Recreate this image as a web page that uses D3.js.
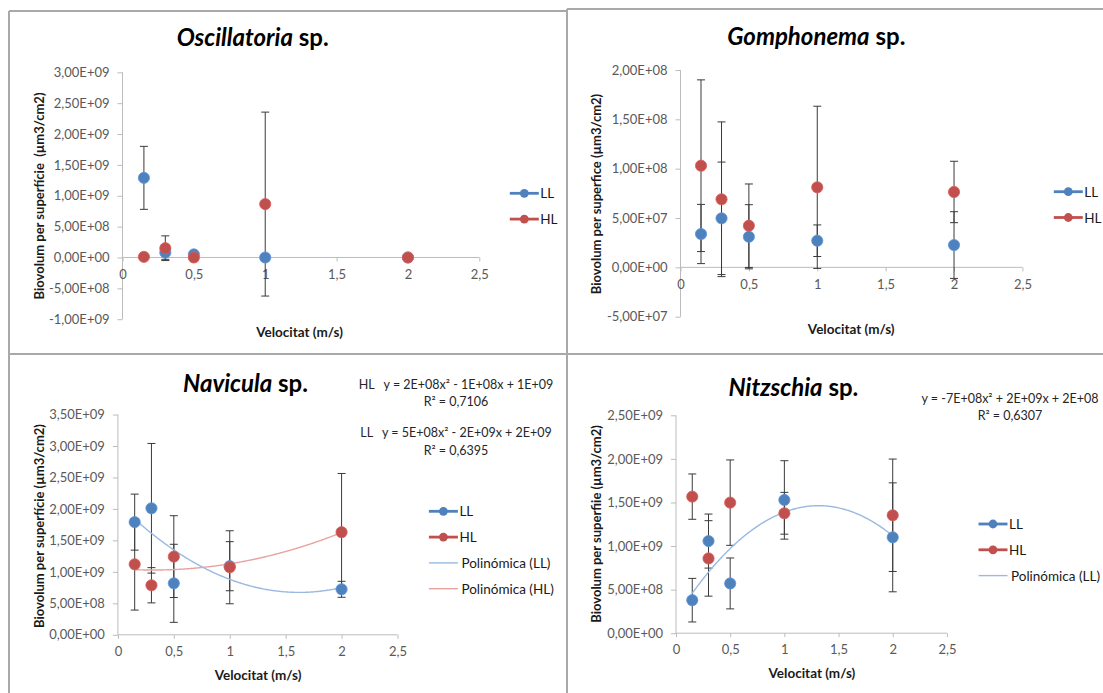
<!DOCTYPE html>
<html><head><meta charset="utf-8">
<script src="https://cdn.jsdelivr.net/npm/d3@7"></script>
<style>body{margin:0;background:#fff} svg{display:block} text{white-space:pre}</style>
</head><body><svg id="c" width="1103" height="693"></svg>
<script>
// ---------- DATA ----------
const velocities = [0.15, 0.3, 0.5, 1, 2];
const xTicks = [0, 0.5, 1, 1.5, 2, 2.5];
const xTickLabels = ["0", "0,5", "1", "1,5", "2", "2,5"];

// Oscillatoria sp.
const oscTicks = [-1e9, -5e8, 0, 5e8, 1e9, 1.5e9, 2e9, 2.5e9, 3e9];
const oscLL = [1.29e9, 0.08e9, 0.05e9, 0, 0];
const oscLLErr = [0.51e9, 0.11e9, 0, 0, 0];
const oscHL = [0.01e9, 0.15e9, 0, 0.865e9, 0];
const oscHLErr = [0, 0.2e9, 0, 1.49e9, 0];

// Gomphonema sp.
const gomTicks = [-5e7, 0, 5e7, 1e8, 1.5e8, 2e8];
const gomLL = [3.38e7, 4.97e7, 3.1e7, 2.7e7, 2.26e7];
const gomLLErr = [3.0e7, 5.7e7, 3.25e7, 1.6e7, 3.38e7];
const gomHL = [1.03e8, 6.9e7, 4.22e7, 8.11e7, 7.64e7];
const gomHLErr = [8.7e7, 7.84e7, 4.23e7, 8.22e7, 3.11e7];

// Navicula sp.
const navTicks = [0, 5e8, 1e9, 1.5e9, 2e9, 2.5e9, 3e9, 3.5e9];
const navLL = [1.79e9, 2.01e9, 0.818e9, 1.09e9, 0.723e9];
const navLLErr = [0.445e9, 1.03e9, 0.62e9, 0.39e9, 0.127e9];
const navHL = [1.12e9, 0.787e9, 1.242e9, 1.073e9, 1.63e9];
const navHLErr = [0.727e9, 0.28e9, 0.65e9, 0.58e9, 0.933e9];
const navEquations = ["HL   y = 2E+08x² - 1E+08x + 1E+09", "R² = 0,7106",
                      "LL   y = 5E+08x² - 2E+09x + 2E+09", "R² = 0,6395"];

// Nitzschia sp.
const nitTicks = [0, 5e8, 1e9, 1.5e9, 2e9, 2.5e9];
const nitLL = [0.379e9, 1.057e9, 0.571e9, 1.529e9, 1.1e9];
const nitLLErr = [0.25e9, 0.31e9, 0.292e9, 0.45e9, 0.625e9];
const nitHL = [1.567e9, 0.858e9, 1.498e9, 1.376e9, 1.353e9];
const nitHLErr = [0.26e9, 0.433e9, 0.49e9, 0.24e9, 0.645e9];
const nitEquations = ["y = -7E+08x² + 2E+09x + 2E+08", "R² = 0,6307"];

// ---------- STYLE ----------
const BLUE = "#4F81BD", RED = "#C0504D";
const BLUE_TREND = "#9BB9E0", RED_TREND = "#E8A3A1";
const FONT = "Lato, 'Open Sans', sans-serif";

function excelSci(v) {
  if (v === 0) return "0,00E+00";
  const s = v < 0 ? "-" : "";
  const a = Math.abs(v);
  let e = Math.floor(Math.log10(a));
  let m = a / Math.pow(10, e);
  if (m >= 9.995) { m /= 10; e += 1; }
  return s + m.toFixed(2).replace(".", ",") + "E" + (e >= 0 ? "+" : "-") + String(Math.abs(e)).padStart(2, "0");
}

function polyfit2(xs, ys) {
  const n = xs.length;
  let S = [0, 0, 0, 0, 0], T = [0, 0, 0];
  for (let i = 0; i < n; i++) {
    for (let k = 0; k < 5; k++) S[k] += Math.pow(xs[i], k);
    for (let k = 0; k < 3; k++) T[k] += ys[i] * Math.pow(xs[i], k);
  }
  const A = [[S[0], S[1], S[2], T[0]], [S[1], S[2], S[3], T[1]], [S[2], S[3], S[4], T[2]]];
  for (let i = 0; i < 3; i++) {
    for (let j = i + 1; j < 3; j++) {
      const f = A[j][i] / A[i][i];
      for (let k = i; k < 4; k++) A[j][k] -= f * A[i][k];
    }
  }
  const c = [0, 0, 0];
  for (let i = 2; i >= 0; i--) {
    let s = A[i][3];
    for (let k = i + 1; k < 3; k++) s -= A[i][k] * c[k];
    c[i] = s / A[i][i];
  }
  return x => c[0] + c[1] * x + c[2] * x * x;
}

const svg = d3.select("#c");

// panel borders
const borderColor = "#a9a9a9";
const borders = svg.append("g").attr("stroke", borderColor).attr("stroke-width", 2).attr("fill", "none");
borders.append("line").attr("x1", 9).attr("y1", 11).attr("x2", 567).attr("y2", 11);
borders.append("line").attr("x1", 567).attr("y1", 9).attr("x2", 1103).attr("y2", 9);
borders.append("line").attr("x1", 9).attr("y1", 11).attr("x2", 9).attr("y2", 693);
borders.append("line").attr("x1", 567).attr("y1", 9).attr("x2", 567).attr("y2", 693);
borders.append("line").attr("x1", 9).attr("y1", 354).attr("x2", 1103).attr("y2", 354);

const panels = [
  { title: "Oscillatoria", xr: [122.5, 479.3], yr: [319.2, 72.3], dom: [-1e9, 3e9], ticks: oscTicks,
    LL: oscLL, LLe: oscLLErr, HL: oscHL, HLe: oscHLErr,
    titlePos: [252.7, 46], yTitle: "Biovolum per superfície  (µm3/cm2)", yTitlePos: [38.6, 196],
    xTitlePos: [299.6, 332], legend: [524.3, 193.3], trends: [] },
  { title: "Gomphonema", xr: [680.5, 1022.4], yr: [316.7, 70], dom: [-5e7, 2e8], ticks: gomTicks,
    LL: gomLL, LLe: gomLLErr, HL: gomHL, HLe: gomHLErr,
    titlePos: [816.3, 45], yTitle: "Biovolum per superfice (µm3/cm2)", yTitlePos: [596.4, 194],
    xTitlePos: [851.2, 329], legend: [1068.3, 191.7], trends: [] },
  { title: "Navicula", xr: [117.9, 397.5], yr: [634.8, 414.5], dom: [0, 3.5e9], ticks: navTicks,
    LL: navLL, LLe: navLLErr, HL: navHL, HLe: navHLErr,
    titlePos: [245.5, 391.7], yTitle: "Biovolum per superfície (µm3/cm2)", yTitlePos: [38.6, 526],
    xTitlePos: [258, 675], legend: [443.4, 511.3], trends: ["LL", "HL"],
    eq: navEquations, eqPos: [456, [384, 401.7, 432.7, 450]] },
  { title: "Nitzschia", xr: [676, 946.9], yr: [633.2, 415.3], dom: [0, 2.5e9], ticks: nitTicks,
    LL: nitLL, LLe: nitLLErr, HL: nitHL, HLe: nitHLErr,
    titlePos: [793.4, 395.5], yTitle: "Biovolum per superfiie (µm3/cm2)", yTitlePos: [596.4, 524],
    xTitlePos: [811.9, 673.3], legend: [993, 524], trends: ["LL"],
    eq: nitEquations, eqPos: [1010, [398.3, 415]] }
];

panels.forEach(p => {
  const g = svg.append("g");
  const x = d3.scaleLinear().domain([0, 2.5]).range(p.xr);
  const y = d3.scaleLinear().domain(p.dom).range(p.yr);

  // title
  const t = g.append("text").attr("x", p.titlePos[0]).attr("y", p.titlePos[1])
    .attr("text-anchor", "middle").attr("font-family", FONT).attr("font-size", 24)
    .attr("font-weight", "bold").attr("fill", "#000");
  t.append("tspan").attr("font-style", "italic").text(p.title);
  t.append("tspan").text(" sp.");

  // y axis
  const yAxis = d3.axisLeft(y).tickValues(p.ticks).tickFormat(excelSci).tickSize(5).tickPadding(8);
  const ya = g.append("g").attr("transform", `translate(${p.xr[0]},0)`).call(yAxis);
  ya.select(".domain").attr("stroke", "#bcbcbc").attr("d", `M0,${p.yr[0]}V${p.yr[1]}`);
  ya.selectAll(".tick line").attr("stroke", "#bcbcbc");
  ya.selectAll(".tick text").attr("font-family", FONT).attr("font-size", 13).attr("fill", "#595959");

  // x axis at y=0
  const xAxis = d3.axisBottom(x).tickValues(xTicks).tickFormat((d, i) => xTickLabels[i]).tickSize(4).tickPadding(8);
  const xa = g.append("g").attr("transform", `translate(0,${y(0)})`).call(xAxis);
  xa.select(".domain").attr("stroke", "#bcbcbc").attr("d", `M${p.xr[0]},0H${p.xr[1]}`);
  xa.selectAll(".tick line").attr("stroke", "#bcbcbc");
  xa.selectAll(".tick text").attr("font-family", FONT).attr("font-size", 13).attr("fill", "#595959");

  // axis titles
  g.append("text").attr("transform", `translate(${p.yTitlePos[0]},${p.yTitlePos[1]}) rotate(-90)`)
    .attr("text-anchor", "middle").attr("dominant-baseline", "central")
    .attr("font-family", FONT).attr("font-size", 13).attr("font-weight", "bold").attr("fill", "#1a1a1a")
    .text(p.yTitle);
  g.append("text").attr("x", p.xTitlePos[0]).attr("y", p.xTitlePos[1])
    .attr("text-anchor", "middle").attr("dominant-baseline", "central")
    .attr("font-family", FONT).attr("font-size", 13.5).attr("font-weight", "bold").attr("fill", "#1a1a1a")
    .text("Velocitat (m/s)");

  // error bars
  const series = [
    { vals: p.LL, err: p.LLe, color: BLUE, trend: BLUE_TREND, key: "LL" },
    { vals: p.HL, err: p.HLe, color: RED, trend: RED_TREND, key: "HL" }
  ];
  const eb = g.append("g").attr("stroke", "#3a3a3a").attr("stroke-width", 1);
  series.forEach(s => {
    velocities.forEach((v, i) => {
      const e = s.err[i];
      if (!e) return;
      const cx = x(v), y1 = y(s.vals[i] + e), y2 = y(s.vals[i] - e);
      eb.append("line").attr("x1", cx).attr("x2", cx).attr("y1", y1).attr("y2", y2);
      eb.append("line").attr("x1", cx - 4).attr("x2", cx + 4).attr("y1", y1).attr("y2", y1);
      eb.append("line").attr("x1", cx - 4).attr("x2", cx + 4).attr("y1", y2).attr("y2", y2);
    });
  });

  // trend lines
  const line = d3.line().x(d => x(d[0])).y(d => y(d[1])).curve(d3.curveBasis);
  series.forEach(s => {
    if (!p.trends.includes(s.key)) return;
    const f = polyfit2(velocities, s.vals);
    const pts = d3.range(0, 186).map(k => { const xv = 0.15 + k * 0.01; return [xv, f(xv)]; });
    g.append("path").attr("d", line(pts)).attr("fill", "none")
      .attr("stroke", s.trend).attr("stroke-width", 1.4);
  });

  // markers
  series.forEach(s => {
    g.append("g").selectAll("circle").data(velocities).join("circle")
      .attr("cx", d => x(d)).attr("cy", (d, i) => y(s.vals[i])).attr("r", 5.6)
      .attr("fill", s.color).attr("stroke", d3.color(s.color).brighter(0.4)).attr("stroke-width", 0.8);
  });

  // legend
  const lg = g.append("g");
  const entries = [{ label: "LL", c: BLUE, m: true }, { label: "HL", c: RED, m: true }];
  p.trends.forEach(k => entries.push({ label: `Polinómica (${k})`, c: k === "LL" ? BLUE_TREND : RED_TREND, m: false }));
  entries.forEach((en, i) => {
    const cy = p.legend[1] + i * 25.8;
    const cx = p.legend[0];
    lg.append("line").attr("x1", cx - 14.5).attr("x2", cx + 14.5).attr("y1", cy).attr("y2", cy)
      .attr("stroke", en.c).attr("stroke-width", en.m ? 2.8 : 1.4);
    if (en.m) lg.append("circle").attr("cx", cx).attr("cy", cy).attr("r", 4.4).attr("fill", en.c);
    lg.append("text").attr("x", cx + (en.m ? 16 : 18)).attr("y", cy).attr("dominant-baseline", "central")
      .attr("font-family", FONT).attr("font-size", 13.5).attr("fill", "#1a1a1a").text(en.label);
  });

  // equations
  if (p.eq) {
    p.eq.forEach((txt, i) => {
      g.append("text").attr("x", p.eqPos[0]).attr("y", p.eqPos[1][i]).attr("text-anchor", "middle")
        .attr("dominant-baseline", "central").attr("font-family", FONT).attr("font-size", 12.5)
        .attr("fill", "#262626").text(txt);
    });
  }
});
</script></body></html>
